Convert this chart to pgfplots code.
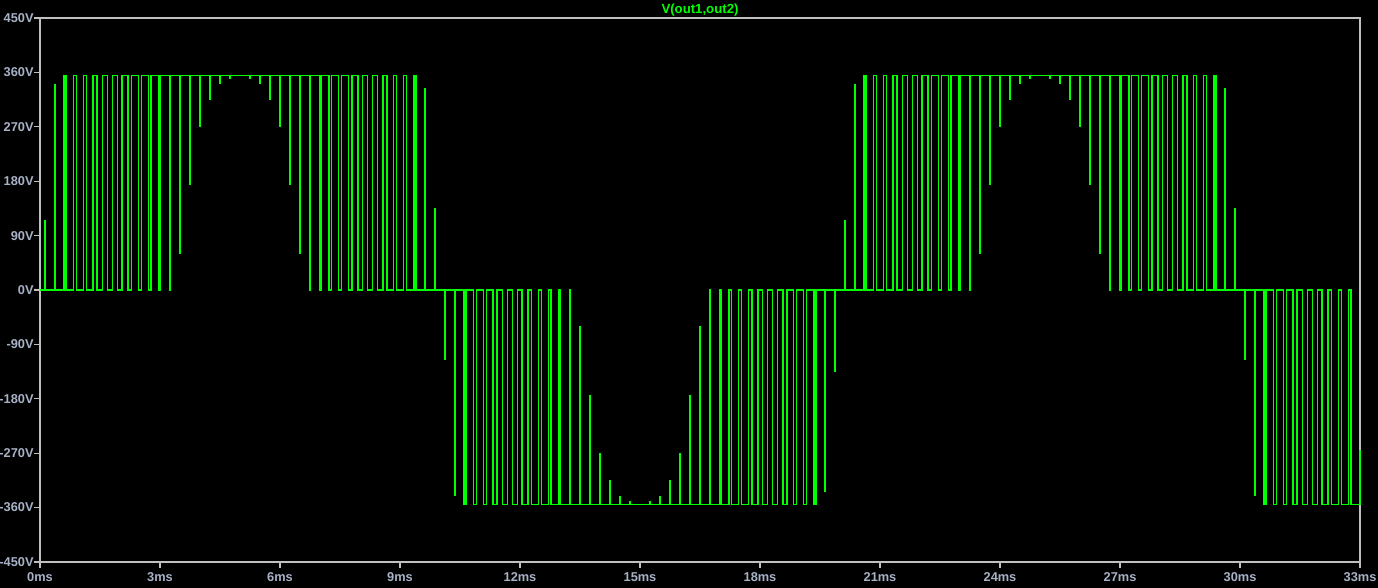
\documentclass[border=0pt]{standalone}
\usepackage{fontspec}
\setmainfont{Liberation Sans}
\usepackage{pgfplots}
\pgfplotsset{compat=1.18}
\definecolor{trace}{RGB}{0,255,0}
\definecolor{ticklab}{RGB}{168,178,198}
\definecolor{axgray}{RGB}{192,192,192}

\begin{document}
\begin{tikzpicture}
\useasboundingbox (0,0) rectangle (689pt,294pt);
\fill[black] (0,0) rectangle (689pt,294pt);
\begin{axis}[
  at={(20pt,13pt)}, anchor=south west,
  scale only axis, width=660pt, height=272pt,
  xmin=0, xmax=33, ymin=-450, ymax=450,
  axis line style={axgray, line width=0.6pt},
  tick style={axgray, line width=0.6pt},
  tick align=outside, major tick length=3pt,
  xtick pos=bottom, ytick pos=left,
  xtick={0,3,...,33},
  xticklabels={0ms,3ms,6ms,9ms,12ms,15ms,18ms,21ms,24ms,27ms,30ms,33ms},
  ytick={-450,-360,...,450},
  yticklabels={-450V,-360V,-270V,-180V,-90V,0V,90V,180V,270V,360V,450V},
  ticklabel style={font=\fontsize{6.4}{7}\selectfont\bfseries, text=ticklab},
  xticklabel style={inner sep=0.5pt, yshift=-1.5pt},
  yticklabel style={inner sep=0pt},
  clip=false,
]
\addplot[trace, line width=0.65pt, const plot] coordinates {
(0,0)
(0.120,115) (0.130,0) (0.360,340) (0.390,0) (0.601,355) (0.649,0) (0.841,355) (0.909,0)
(1.082,355) (1.168,0) (1.323,355) (1.427,0) (1.564,355) (1.686,0) (1.806,355) (1.944,0)
(2.048,355) (2.202,0) (2.290,355) (2.460,0) (2.533,355) (2.717,0) (2.777,355) (2.973,0)
(3.021,355) (3.229,0) (3.266,355) (3.484,60) (3.512,355) (3.739,175) (3.758,355) (3.992,270)
(4.005,355) (4.245,315) (4.252,355) (4.498,342) (4.501,355) (4.749,350) (4.750,355) (5.250,350)
(5.251,355) (5.499,342) (5.502,355) (5.748,315) (5.755,355) (5.995,270) (6.008,355) (6.242,175)
(6.262,355) (6.489,60) (6.516,355) (6.734,0) (6.771,355) (6.979,0) (7.027,355) (7.223,0)
(7.283,355) (7.467,0) (7.540,355) (7.710,0) (7.798,355) (7.952,0) (8.056,355) (8.194,0)
(8.314,355) (8.436,0) (8.573,355) (8.677,0) (8.832,355) (8.918,0) (9.091,355) (9.159,0)
(9.351,355) (9.399,0) (9.610,333) (9.640,0) (9.870,135) (9.880,0)
(10.120,-115) (10.130,0) (10.360,-340) (10.390,0) (10.601,-355) (10.649,0) (10.841,-355) (10.909,0)
(11.082,-355) (11.168,0) (11.323,-355) (11.427,0) (11.564,-355) (11.686,0) (11.806,-355) (11.944,0)
(12.048,-355) (12.202,0) (12.290,-355) (12.460,0) (12.533,-355) (12.717,0) (12.777,-355) (12.973,0)
(13.021,-355) (13.229,0) (13.266,-355) (13.484,-60) (13.512,-355) (13.739,-175) (13.758,-355) (13.992,-270)
(14.005,-355) (14.245,-315) (14.252,-355) (14.498,-342) (14.501,-355) (14.749,-350) (14.750,-355) (15.250,-350)
(15.251,-355) (15.499,-342) (15.502,-355) (15.748,-315) (15.755,-355) (15.995,-270) (16.008,-355) (16.242,-175)
(16.262,-355) (16.489,-60) (16.516,-355) (16.734,0) (16.771,-355) (16.979,0) (17.027,-355) (17.223,0)
(17.283,-355) (17.467,0) (17.540,-355) (17.710,0) (17.798,-355) (17.952,0) (18.056,-355) (18.194,0)
(18.314,-355) (18.436,0) (18.573,-355) (18.677,0) (18.832,-355) (18.918,0) (19.091,-355) (19.159,0)
(19.351,-355) (19.399,0) (19.610,-333) (19.640,0) (19.870,-135) (19.880,0)
(20.120,115) (20.130,0) (20.360,340) (20.390,0) (20.601,355) (20.649,0) (20.841,355) (20.909,0)
(21.082,355) (21.168,0) (21.323,355) (21.427,0) (21.564,355) (21.686,0) (21.806,355) (21.944,0)
(22.048,355) (22.202,0) (22.290,355) (22.460,0) (22.533,355) (22.717,0) (22.777,355) (22.973,0)
(23.021,355) (23.229,0) (23.266,355) (23.484,60) (23.512,355) (23.739,175) (23.758,355) (23.992,270)
(24.005,355) (24.245,315) (24.252,355) (24.498,342) (24.501,355) (24.749,350) (24.750,355) (25.250,350)
(25.251,355) (25.499,342) (25.502,355) (25.748,315) (25.755,355) (25.995,270) (26.008,355) (26.242,175)
(26.262,355) (26.489,60) (26.516,355) (26.734,0) (26.771,355) (26.979,0) (27.027,355) (27.223,0)
(27.283,355) (27.467,0) (27.540,355) (27.710,0) (27.798,355) (27.952,0) (28.056,355) (28.194,0)
(28.314,355) (28.436,0) (28.573,355) (28.677,0) (28.832,355) (28.918,0) (29.091,355) (29.159,0)
(29.351,355) (29.399,0) (29.610,333) (29.640,0) (29.870,135) (29.880,0)
(30.120,-115) (30.130,0) (30.360,-340) (30.390,0) (30.601,-355) (30.649,0) (30.841,-355) (30.909,0)
(31.082,-355) (31.168,0) (31.323,-355) (31.427,0) (31.564,-355) (31.686,0) (31.806,-355) (31.944,0)
(32.048,-355) (32.202,0) (32.290,-355) (32.460,0) (32.533,-355) (32.717,0) (32.777,-355) (33,-265)
};
\node[anchor=base, inner sep=0pt, yshift=2.5pt, text=trace,
  font=\fontsize{6.6}{7}\selectfont\bfseries] at (rel axis cs:0.5,1) {V(out1,out2)};
\end{axis}
\end{tikzpicture}
\end{document}
